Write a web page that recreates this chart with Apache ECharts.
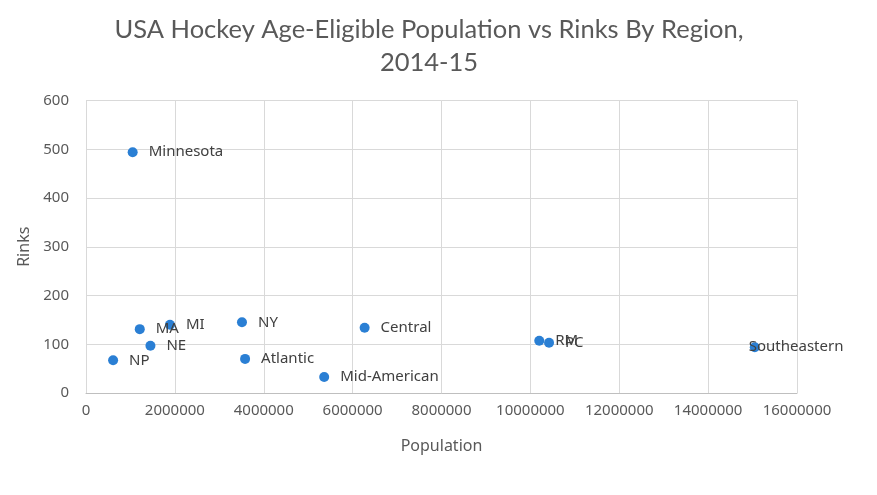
<!DOCTYPE html>
<html>
<head>
<meta charset="utf-8">
<script src="https://cdn.jsdelivr.net/npm/echarts@6/dist/echarts.min.js"></script>
<style>html,body{margin:0;padding:0;background:#fff;}#c{width:877px;height:495px;}</style>
</head>
<body>
<div id="c"></div>
<script>
const regions = ['Minnesota','MA','MI','NE','NP','NY','Atlantic','Mid-American','Central','RM','PC','Southeastern'];
const population = [1050000,1210000,1890000,1450000,610000,3510000,3580000,5360000,6270000,10200000,10420000,15050000];
const rinks = [494,131,140,97,67,145,70,33,134,107,103,94];
const xTicks = {min:0, max:16000000, interval:2000000};
const yTicks = {min:0, max:600, interval:100};

const data = regions.map((r,i)=>{
  const item = {name:r, value:[population[i], rinks[i]]};
  if (r === 'Southeastern') item.label = {position:[-1,5], align:'left', verticalAlign:'middle'};
  return item;
});

const chart = echarts.init(document.getElementById('c'));
chart.setOption({
  animation:false,
  backgroundColor:'#fff',
  title:{
    text:'USA Hockey Age-Eligible Population vs Rinks By Region,\n2014-15',
    left:424, top:8, textAlign:'center',
    textStyle:{fontFamily:'Lato', fontSize:25.5, fontWeight:'normal', color:'#595959', lineHeight:33}
  },
  grid:{left:86, right:80, top:100.5, bottom:102},
  xAxis:{
    type:'value', min:xTicks.min, max:xTicks.max, interval:xTicks.interval,
    name:'Population', nameLocation:'middle', nameGap:45,
    nameTextStyle:{fontFamily:'Noto Sans', fontSize:16, color:'#595959'},
    axisLine:{show:true, lineStyle:{color:'#bfbfbf', width:1}},
    axisTick:{show:false},
    axisLabel:{fontFamily:'Noto Sans', fontSize:15, color:'#595959', margin:10, formatter:v=>String(v)},
    splitLine:{show:true, lineStyle:{color:'#d9d9d9', width:1}}
  },
  yAxis:{
    type:'value', min:yTicks.min, max:yTicks.max, interval:yTicks.interval,
    name:'Rinks', nameLocation:'middle', nameGap:48,
    nameTextStyle:{fontFamily:'Noto Sans', fontSize:16, color:'#595959'},
    axisLine:{show:true, lineStyle:{color:'#d9d9d9', width:1}},
    axisTick:{show:false},
    axisLabel:{fontFamily:'Noto Sans', fontSize:15, color:'#595959', margin:17},
    splitLine:{show:true, lineStyle:{color:'#d9d9d9', width:1}}
  },
  series:[{
    type:'scatter',
    symbol:'circle', symbolSize:10,
    itemStyle:{color:'#2a7fd4', opacity:1},
    label:{show:true, position:'right', distance:11, formatter:p=>p.name,
      fontFamily:'Noto Sans', fontSize:15, color:'#404040'},
    data:data
  }]
});
</script>
</body>
</html>
